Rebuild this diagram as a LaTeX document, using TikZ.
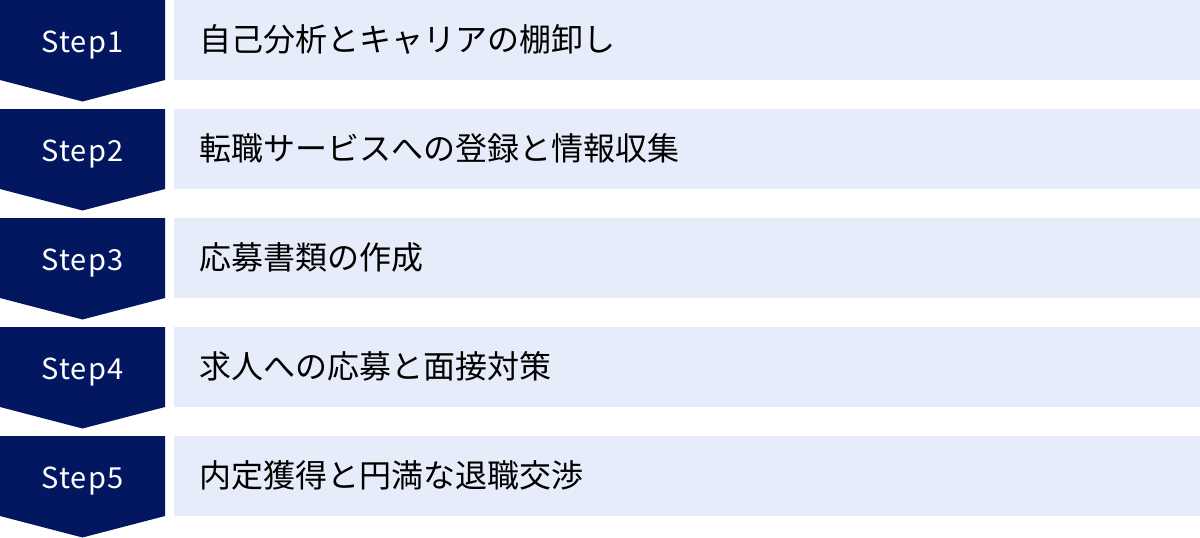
\documentclass[tikz,border=0pt]{standalone}
\usepackage{fontspec}
\setmainfont{Noto Sans CJK JP}
\newfontfamily\stepfont[LetterSpace=4]{Noto Sans CJK JP}
\definecolor{navy}{RGB}{3,23,96}
\definecolor{pale}{RGB}{230,236,249}

\begin{document}
\begin{tikzpicture}[x=1pt, y=-1pt,
	steplabel/.style={text=white, inner sep=0pt, anchor=base, font=\stepfont\fontsize{29}{35}\selectfont},
	tasklabel/.style={text=black, inner sep=0pt, anchor=base west, font=\fontsize{32}{38}\selectfont}]

\useasboundingbox (0,0) rectangle (1200,538);

\foreach [count=\i] \t in {
自己分析とキャリアの棚卸し%
,転職サービスへの登録と情報収集%
,応募書類の作成%
,求人への応募と面接対策%
,内定獲得と円満な退職交渉%
}{
	\pgfmathsetmacro{\top}{109*(\i-1)}
	\fill[navy] (0,\top) -- (165,\top) -- (165,\top+80) -- (82.5,\top+101.5) -- (0,\top+80) -- cycle;
	\fill[pale] (174,\top) rectangle (1200,\top+80);
	\node[steplabel](step\i) at(82.5,\top+52.3) {Step\i};
	\node[tasklabel](task\i) at(199,\top+51.5) {\t};
}

\end{tikzpicture}
\end{document}
